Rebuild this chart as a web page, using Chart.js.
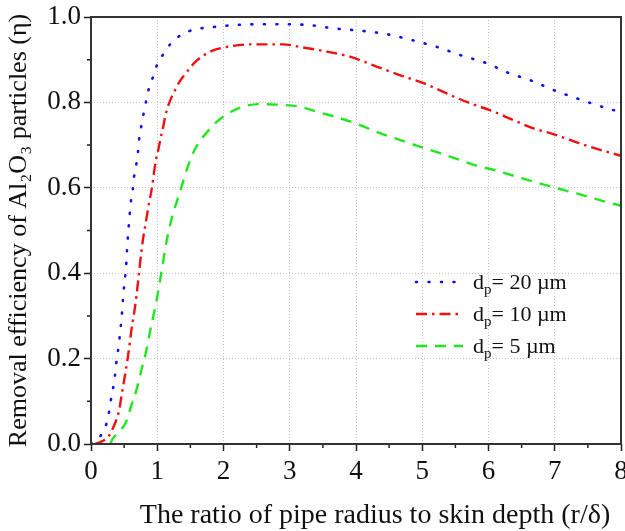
<!DOCTYPE html>
<html>
<head>
<meta charset="utf-8">
<script src="https://cdn.jsdelivr.net/npm/chart.js@4.4.1/dist/chart.umd.min.js"></script>
<style>
  html, body { margin: 0; padding: 0; background: #ffffff; }
  #wrap { width: 625px; height: 531px; }
</style>
</head>
<body>
<div id="wrap"><canvas id="grafico" width="625" height="531"></canvas></div>
<script>
// Valores (r/δ frente a η)
const x20 = [0.0, 0.16, 0.24, 0.28, 0.31, 0.35, 0.39, 0.42, 0.44, 0.46, 0.49, 0.53, 0.55, 0.57, 0.6, 0.63, 0.65, 0.685, 0.71, 0.725, 0.76, 0.795, 0.835, 0.875, 0.936, 1.0, 1.1, 1.2, 1.37, 1.565, 1.75, 1.95, 2.15, 2.55, 2.9, 3.3, 3.68, 4.06, 4.46, 4.84, 5.22, 5.57, 5.95, 6.32, 6.63, 6.98, 7.36, 7.71, 8.0];
const y20 = [0.0, 0.023, 0.051, 0.081, 0.113, 0.145, 0.2, 0.232, 0.263, 0.292, 0.354, 0.417, 0.47, 0.51, 0.565, 0.595, 0.626, 0.656, 0.685, 0.712, 0.745, 0.774, 0.806, 0.833, 0.86, 0.889, 0.915, 0.937, 0.959, 0.971, 0.975, 0.978, 0.981, 0.983, 0.983, 0.981, 0.973, 0.968, 0.96, 0.946, 0.93, 0.911, 0.893, 0.868, 0.852, 0.829, 0.808, 0.79, 0.777];

const x10 = [0.06, 0.13, 0.26, 0.35, 0.42, 0.47, 0.51, 0.55, 0.585, 0.61, 0.65, 0.685, 0.71, 0.735, 0.76, 0.795, 0.82, 0.85, 0.875, 0.91, 0.936, 0.96, 0.985, 1.02, 1.05, 1.09, 1.12, 1.16, 1.21, 1.27, 1.34, 1.46, 1.59, 1.8, 2.05, 2.45, 2.9, 3.15, 3.56, 3.91, 4.31, 4.66, 5.02, 5.37, 5.72, 6.02, 6.37, 6.68, 6.93, 7.23, 7.53, 8.0];
const y10 = [0.0, 0.004, 0.017, 0.044, 0.076, 0.122, 0.158, 0.197, 0.236, 0.267, 0.306, 0.345, 0.38, 0.415, 0.45, 0.49, 0.512, 0.54, 0.564, 0.591, 0.618, 0.646, 0.669, 0.692, 0.716, 0.743, 0.767, 0.79, 0.81, 0.829, 0.849, 0.874, 0.897, 0.919, 0.93, 0.936, 0.936, 0.93, 0.919, 0.907, 0.884, 0.864, 0.845, 0.821, 0.798, 0.782, 0.759, 0.739, 0.728, 0.712, 0.696, 0.675];

const x5 = [0.29, 0.33, 0.43, 0.53, 0.61, 0.685, 0.76, 0.825, 0.885, 0.95, 1.01, 1.06, 1.11, 1.16, 1.24, 1.31, 1.36, 1.46, 1.565, 1.8, 2.0, 2.3, 2.55, 2.9, 3.15, 3.46, 3.76, 4.06, 4.36, 4.66, 4.97, 5.27, 5.57, 5.82, 6.12, 6.43, 6.73, 7.03, 7.33, 7.68, 8.0];
const y5 = [0.0, 0.013, 0.029, 0.052, 0.091, 0.126, 0.173, 0.212, 0.259, 0.306, 0.353, 0.4, 0.447, 0.49, 0.54, 0.575, 0.599, 0.649, 0.689, 0.739, 0.767, 0.79, 0.796, 0.794, 0.79, 0.776, 0.763, 0.747, 0.728, 0.712, 0.696, 0.681, 0.665, 0.652, 0.64, 0.626, 0.612, 0.599, 0.587, 0.571, 0.558];

// Etiquetas de la leyenda (d_p en µm)
const tamanos = ['20', '10', '5'];

const tituloX = 'The ratio of pipe radius to skin depth (r/δ)';

const fuente = "'Liberation Serif', 'Times New Roman', serif";

function puntos(xs, ys) {
    return xs.map((x, i) => ({ x: x, y: ys[i] }));
}

// Marco, ticks menores, título del eje X y leyenda con subíndices
const extras = {
    id: 'extras',
    afterDraw(chart) {
        const ctx = chart.ctx;
        const a = chart.chartArea;
        const sx = chart.scales.x;
        const sy = chart.scales.y;
        ctx.save();
        // ticks menores
        ctx.strokeStyle = '#222';
        ctx.lineWidth = 1.5;
        ctx.beginPath();
        for (let v = 0.5; v < 8; v += 1) {
            const px = sx.getPixelForValue(v);
            ctx.moveTo(px, a.bottom);
            ctx.lineTo(px, a.bottom + 4);
        }
        for (let v = 0.1; v < 1; v += 0.2) {
            const py = sy.getPixelForValue(v);
            ctx.moveTo(a.left, py);
            ctx.lineTo(a.left - 4, py);
        }
        ctx.stroke();
        // marco
        ctx.strokeStyle = '#333';
        ctx.lineWidth = 2;
        ctx.strokeRect(a.left, a.top, a.right - a.left, a.bottom - a.top);

        // título del eje X (un poco desplazado a la derecha, como en la figura)
        ctx.fillStyle = '#111';
        ctx.font = '28px ' + fuente;
        ctx.textAlign = 'center';
        ctx.textBaseline = 'alphabetic';
        ctx.fillText(tituloX, (a.left + a.right) / 2 + 19, 523);
        ctx.textAlign = 'left';

        // leyenda
        const lx = a.left + 325;
        let ly = a.top + 265;
        chart.data.datasets.forEach((ds, i) => {
            ctx.strokeStyle = ds.borderColor;
            ctx.lineWidth = ds.borderWidth;
            ctx.lineCap = ds.borderCapStyle || 'butt';
            ctx.setLineDash(ds.borderDash);
            ctx.beginPath();
            ctx.moveTo(lx, ly);
            ctx.lineTo(lx + 47, ly);
            ctx.stroke();
            ctx.setLineDash([]);
            ctx.fillStyle = '#111';
            ctx.font = '22px ' + fuente;
            let tx = lx + 57;
            ctx.fillText('d', tx, ly + 7);
            tx += ctx.measureText('d').width;
            ctx.font = '15px ' + fuente;
            ctx.fillText('p', tx, ly + 12);
            tx += ctx.measureText('p').width;
            ctx.font = '22px ' + fuente;
            ctx.fillText('= ' + tamanos[i] + ' µm', tx, ly + 7);
            ly += 32;
        });
        ctx.restore();
    }
};

const ctx = document.getElementById('grafico').getContext('2d');
const grafico = new Chart(ctx, {
    type: 'scatter',
    data: {
        datasets: [
            {
                label: 'dp = ' + tamanos[0] + ' µm',
                data: puntos(x20, y20),
                showLine: true,
                borderColor: '#1010f0',
                borderWidth: 2.6,
                borderDash: [1, 11.5],
                borderCapStyle: 'round',
                pointRadius: 0,
                cubicInterpolationMode: 'monotone'
            },
            {
                label: 'dp = ' + tamanos[1] + ' µm',
                data: puntos(x10, y10),
                showLine: true,
                borderColor: '#f01010',
                borderWidth: 2.4,
                borderDash: [11, 5, 2.5, 5],
                pointRadius: 0,
                cubicInterpolationMode: 'monotone'
            },
            {
                label: 'dp = ' + tamanos[2] + ' µm',
                data: puntos(x5, y5),
                showLine: true,
                borderColor: '#22e622',
                borderWidth: 2.4,
                borderDash: [11, 8],
                pointRadius: 0,
                cubicInterpolationMode: 'monotone'
            }
        ]
    },
    options: {
        responsive: false,
        animation: false,
        layout: { padding: { top: 17, right: 4, left: 0, bottom: 0 } },
        plugins: {
            legend: { display: false },
            tooltip: { enabled: false }
        },
        scales: {
            x: {
                type: 'linear',
                min: 0,
                max: 8,
                afterFit: s => { s.height = 87; s.paddingLeft = 0; s.paddingRight = 0; },
                ticks: {
                    stepSize: 1,
                    color: '#111',
                    padding: 5,
                    font: { family: fuente, size: 27 }
                },
                grid: {
                    color: '#c4c4c4',
                    lineWidth: 1,
                    tickColor: '#222',
                    tickLength: 7,
                    tickWidth: 1.5
                },
                border: { display: false, dash: [1, 2] },
                title: { display: false }
            },
            y: {
                min: 0,
                max: 1,
                afterFit: s => { s.width = 91; s.paddingTop = 0; s.paddingBottom = 0; },
                ticks: {
                    stepSize: 0.2,
                    color: '#111',
                    padding: 3,
                    callback: v => v.toFixed(1),
                    font: { family: fuente, size: 27 }
                },
                grid: {
                    color: '#c4c4c4',
                    lineWidth: 1,
                    tickColor: '#222',
                    tickLength: 7,
                    tickWidth: 1.5
                },
                border: { display: false, dash: [1, 2] },
                title: {
                    display: true,
                    text: 'Removal efficiency of Al₂O₃ particles (η)',
                    color: '#111',
                    padding: { top: 4, bottom: 0 },
                    font: { family: fuente, size: 26 }
                }
            }
        }
    },
    plugins: [extras]
});
</script>
</body>
</html>
